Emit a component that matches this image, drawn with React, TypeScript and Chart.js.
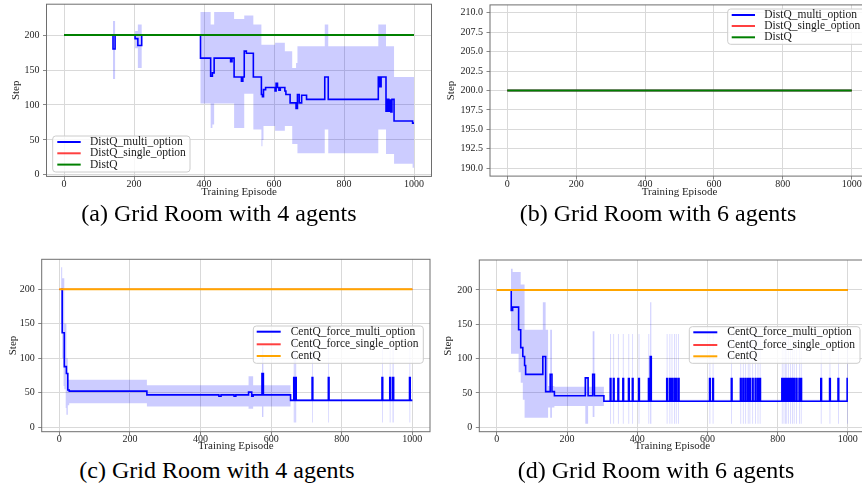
import React, { useEffect, useRef } from "react";
import { Chart, registerables } from "chart.js";

Chart.register(...registerables);

// ---------- tick labels ----------
const xTickValues = [0, 200, 400, 600, 800, 1000];
const yTickValuesStep = [0, 50, 100, 150, 200];
const yTickValuesB = [190, 192.5, 195, 197.5, 200, 202.5, 205, 207.5, 210];

// ---------- (a) DistQ, 4 agents ----------
const aEpisode = [0, 140, 146, 203, 211, 222, 390, 419, 424, 429, 476, 480, 486, 507, 511, 515, 521, 541, 564, 567, 570, 576, 603, 606, 610, 614, 618, 631, 634, 646, 652, 663, 667, 672, 679, 693, 745, 755, 898, 902, 906, 920, 924, 928, 931, 934, 937, 943, 996, 1000];
const aMulti = [200, 180, 200, 195, 185, 200, 167, 141, 146, 167, 162, 167, 140, 134, 140, 177, 174, 140, 115, 112, 122, 125, 120, 131, 125, 121, 125, 120, 115, 103, 103, 95, 115, 103, 114, 108, 140, 108, 140, 126, 140, 91, 108, 91, 107, 90, 108, 77, 74, 74];
const aLow = [200, 137, 200, 181, 153, 200, 102, 67, 72, 102, 102, 102, 67, 67, 67, 116, 116, 65, 41, 50, 70, 70, 63, 63, 63, 63, 63, 70, 70, 70, 44, 44, 31, 31, 31, 31, 65, 31, 65, 65, 65, 30, 30, 30, 30, 30, 30, 16, 10, 10];
const aHigh = [200, 220, 200, 206, 215, 200, 233, 215, 215, 233, 233, 233, 223, 223, 223, 228, 228, 215, 186, 186, 186, 186, 189, 189, 189, 189, 189, 177, 177, 177, 153, 160, 184, 184, 184, 184, 215, 184, 215, 215, 215, 184, 184, 184, 184, 184, 184, 140, 140, 140];
const aFlatEpisode = [0, 1000];
const aSingle = [200, 200];
const aDistQ = [200, 200];

// ---------- (b) DistQ, 6 agents ----------
const bEpisode = [0, 1000];
const bMulti = [200, 200];
const bLow = [200, 200];
const bHigh = [200, 200];
const bSingle = [200, 200];
const bDistQ = [200, 200];

// ---------- (c) CentQ, 4 agents ----------
const cEpisode = [5, 8, 12, 14, 18, 20, 24, 28, 248, 452, 458, 495, 500, 536, 545, 549, 574, 578, 655, 664, 667, 668, 671, 716, 718, 762, 764, 914, 916, 936, 938, 944, 947, 992, 994, 1000];
const cMulti = [200, 137, 137, 88, 88, 78, 54, 52.5, 47, 45, 47, 45, 47, 51, 45, 47, 78, 47, 39, 72, 39, 72, 39, 72, 39, 72, 39, 72, 39, 72, 39, 72, 39, 72, 39, 39];
const cLow = [150, 100, 60, 55, 28, 18, 32, 35, 30, 30, 30, 30, 30, 27, 27, 30, 15, 30, 38, 7, 38, 7, 38, 7, 38, 7, 38, 7, 38, 7, 38, 7, 38, 7, 38, 38];
const cHigh = [232, 216, 216, 150, 150, 100, 69, 69, 61, 61, 61, 61, 61, 74, 74, 61, 117, 61, 41, 130, 41, 130, 41, 130, 41, 130, 41, 130, 41, 130, 41, 130, 41, 130, 41, 41];
const cFlatEpisode = [0, 1000];
const cSingle = [200, 200];
const cCentQ = [200, 200];

// ---------- (d) CentQ, 6 agents ----------
const dEpisode = [40, 41, 45, 62, 68, 74, 79, 82, 131, 139, 146, 152, 157, 164, 252, 260, 273, 278, 305,
  323, 325, 332, 334, 345, 347, 359, 361, 375, 377, 386, 388, 404, 406, 432, 434, 437, 440,
  484, 486, 492, 494, 498, 500, 505, 507, 510, 512, 517, 519,
  606, 608, 615, 617, 668, 670,
  694, 696, 701, 703, 708, 710, 715, 717, 720, 722, 728, 730, 736, 738, 743, 745, 749, 751,
  812, 814, 817, 819, 821, 823, 825, 827, 830, 832, 836, 838, 841, 843, 846, 848, 853, 855, 861, 863, 866, 868,
  923, 925, 948, 950, 972, 974, 998, 1000];
const dMulti = [200, 170, 175, 142, 116, 103, 90, 77, 103, 52, 52, 77, 52, 46, 72, 46, 77, 46, 38,
  71, 38, 71, 38, 71, 38, 71, 38, 71, 38, 71, 38, 71, 38, 71, 38, 103, 38,
  71, 38, 71, 38, 71, 38, 71, 38, 71, 38, 71, 38,
  71, 38, 71, 38, 71, 38,
  71, 38, 71, 38, 71, 38, 71, 38, 71, 38, 71, 38, 71, 38, 71, 38, 71, 38,
  71, 38, 71, 38, 71, 38, 71, 38, 71, 38, 71, 38, 71, 38, 71, 38, 71, 38, 71, 38, 71, 38,
  71, 38, 71, 38, 71, 38, 71, 71];
const dLow = [107, 107, 107, 80, 65, 40, 14, 14, 14, 14, 29, 14, 29, 31, 5, 31, 15, 31, 37,
  5, 37, 5, 37, 5, 37, 5, 37, 5, 37, 5, 37, 5, 37, 5, 37, 5, 37,
  5, 37, 5, 37, 5, 37, 5, 37, 5, 37, 5, 37,
  5, 37, 5, 37, 5, 37,
  5, 37, 5, 37, 5, 37, 5, 37, 5, 37, 5, 37, 5, 37, 5, 37, 5, 37,
  5, 37, 5, 37, 5, 37, 5, 37, 5, 37, 5, 37, 5, 37, 5, 37, 5, 37, 5, 37, 5, 37,
  5, 37, 5, 37, 5, 37, 5, 5];
const dHigh = [231, 231, 226, 226, 208, 208, 142, 142, 182, 142, 60, 142, 60, 59, 72, 59, 140, 59, 40,
  136, 40, 136, 40, 136, 40, 136, 40, 136, 40, 136, 40, 136, 40, 136, 40, 182, 40,
  136, 40, 136, 40, 136, 40, 136, 40, 136, 40, 136, 40,
  136, 40, 136, 40, 136, 40,
  136, 40, 136, 40, 136, 40, 136, 40, 136, 40, 136, 40, 136, 40, 136, 40, 136, 40,
  136, 40, 136, 40, 136, 40, 136, 40, 136, 40, 136, 40, 136, 40, 136, 40, 136, 40, 136, 40, 136, 40,
  136, 40, 136, 40, 136, 40, 136, 136];
const dFlatEpisode = [0, 1000];
const dSingle = [200, 200];
const dCentQ = [200, 200];

const distLabels = ["DistQ_multi_option", "DistQ_single_option", "DistQ"];
const centLabels = ["CentQ_force_multi_option", "CentQ_force_single_option", "CentQ"];
const captions = ["(a) Grid Room with 4 agents", "(b) Grid Room with 6 agents", "(c) Grid Room with 4 agents", "(d) Grid Room with 6 agents"];

// ---------- layout / style ----------
const FONT = "'Liberation Serif', 'DejaVu Serif', serif";
const BAND = "rgba(0,0,255,0.2)";
const MULTI = "#0000ff";
const SINGLE = "#ff0000";

type Box = { left: number; top: number; w: number; h: number };
type Spec = {
  canvas: Box;
  plot: { L: number; T: number; R: number; B: number };
  yMin: number; yMax: number; yTicks: number[]; yDecimals: number;
  stepTitleX: number; xTitleY: number;
  episodes: number[]; multi: number[]; low: number[]; high: number[];
  flatEpisodes: number[]; single: number[]; base: number[];
  labels: string[]; baseColor: string;
  legend: { x: number; y: number; w: number; h: number; rows: number[]; lineX0: number; lineX1: number; textX: number };
};

const specs: Spec[] = [
  {
    canvas: { left: 0, top: 0, w: 432, h: 200 },
    plot: { L: 46.5, T: 4.2, R: 431.5, B: 176.4 },
    yMin: -2.2, yMax: 244.2, yTicks: yTickValuesStep, yDecimals: 0,
    stepTitleX: 16, xTitleY: 192.2,
    episodes: aEpisode, multi: aMulti, low: aLow, high: aHigh,
    flatEpisodes: aFlatEpisode, single: aSingle, base: aDistQ,
    labels: distLabels, baseColor: "#008000",
    legend: { x: 52.7, y: 136, w: 137.3, h: 36, rows: [142, 153.3, 164.6], lineX0: 57.3, lineX1: 80.7, textX: 90 },
  },
  {
    canvas: { left: 431, top: 0, w: 440, h: 200 },
    plot: { L: 490, T: 4.9, R: 869, B: 176.1 },
    yMin: 189, yMax: 211, yTicks: yTickValuesB, yDecimals: 1,
    stepTitleX: 451, xTitleY: 192.2,
    episodes: bEpisode, multi: bMulti, low: bLow, high: bHigh,
    flatEpisodes: bEpisode, single: bSingle, base: bDistQ,
    labels: distLabels, baseColor: "#008000",
    legend: { x: 727.7, y: 9, w: 145, h: 35.3, rows: [15, 26, 37.3], lineX0: 731.7, lineX1: 755, textX: 764.3 },
  },
  {
    canvas: { left: 0, top: 252, w: 432, h: 200 },
    plot: { L: 41.7, T: 259.3, R: 430, B: 431.7 },
    yMin: -6.4, yMax: 243.6, yTicks: yTickValuesStep, yDecimals: 0,
    stepTitleX: 13, xTitleY: 446.5,
    episodes: cEpisode, multi: cMulti, low: cLow, high: cHigh,
    flatEpisodes: cFlatEpisode, single: cSingle, base: cCentQ,
    labels: centLabels, baseColor: "#ffa500",
    legend: { x: 253.3, y: 326, w: 170, h: 37.3, rows: [331.7, 344.3, 356], lineX0: 256.7, lineX1: 280.7, textX: 290.7 },
  },
  {
    canvas: { left: 431, top: 252, w: 440, h: 200 },
    plot: { L: 479.3, T: 260, R: 865.4, B: 431.7 },
    yMin: -6.4, yMax: 243.6, yTicks: yTickValuesStep, yDecimals: 0,
    stepTitleX: 448, xTitleY: 446.5,
    episodes: dEpisode, multi: dMulti, low: dLow, high: dHigh,
    flatEpisodes: dFlatEpisode, single: dSingle, base: dCentQ,
    labels: centLabels, baseColor: "#ffa500",
    legend: { x: 689.3, y: 326.7, w: 170.7, h: 36.6, rows: [332.3, 345, 356.3], lineX0: 693.3, lineX1: 717.3, textX: 727.3 },
  },
];

const toXY = (xs: number[], ys: number[]) => xs.map((x, i) => ({ x, y: ys[i] }));

function buildConfig(spec: Spec): any {
  const { canvas, plot } = spec;
  const yAxisW = plot.L - canvas.left;
  const xAxisH = canvas.top + canvas.h - plot.B;
  const titleLH = 11 * 1.2;
  const yTitlePad = spec.stepTitleX - canvas.left - titleLH / 2;
  const xTitlePad = canvas.top + canvas.h - spec.xTitleY - titleLH / 2;
  const legendColors = [MULTI, "rgba(255,0,0,0.75)", spec.baseColor];

  const framePlugin = {
    id: "frame",
    afterDatasetsDraw(chart: any) {
      const { ctx, chartArea: a } = chart;
      ctx.save();
      ctx.strokeStyle = "#6e6e6e";
      ctx.lineWidth = 1;
      ctx.strokeRect(a.left, a.top, a.right - a.left, a.bottom - a.top);
      ctx.restore();
    },
  };
  const legendPlugin = {
    id: "boxLegend",
    afterDraw(chart: any) {
      const ctx = chart.ctx;
      const L = spec.legend;
      const ox = canvas.left, oy = canvas.top;
      ctx.save();
      ctx.beginPath();
      if (ctx.roundRect) ctx.roundRect(L.x - ox, L.y - oy, L.w, L.h, 3);
      else ctx.rect(L.x - ox, L.y - oy, L.w, L.h);
      ctx.fillStyle = "rgba(255,255,255,0.8)";
      ctx.fill();
      ctx.strokeStyle = "#cccccc";
      ctx.lineWidth = 1;
      ctx.stroke();
      spec.labels.forEach((label, i) => {
        const ry = L.rows[i] - oy;
        ctx.beginPath();
        ctx.moveTo(L.lineX0 - ox, ry);
        ctx.lineTo(L.lineX1 - ox, ry);
        ctx.strokeStyle = legendColors[i];
        ctx.lineWidth = 2;
        ctx.stroke();
        ctx.fillStyle = "#1a1a1a";
        ctx.font = `11.5px ${FONT}`;
        ctx.textBaseline = "middle";
        ctx.textAlign = "left";
        ctx.fillText(label, L.textX - ox, ry);
      });
      ctx.restore();
    },
  };

  const tickFont = { family: FONT, size: 10 };
  const titleFont = { family: FONT, size: 11 };

  return {
    type: "line",
    data: {
      datasets: [
        { label: "low", data: toXY(spec.episodes, spec.low), borderWidth: 0, borderColor: "rgba(0,0,0,0)", pointRadius: 0, stepped: true, fill: false, order: 5 },
        { label: "high", data: toXY(spec.episodes, spec.high), borderWidth: 0, borderColor: "rgba(0,0,0,0)", backgroundColor: BAND, pointRadius: 0, stepped: true, fill: "-1", order: 4 },
        { label: spec.labels[0], data: toXY(spec.episodes, spec.multi), borderColor: MULTI, borderWidth: 1.6, pointRadius: 0, stepped: true, fill: false, order: 2 },
        { label: spec.labels[1], data: toXY(spec.flatEpisodes, spec.single), borderColor: SINGLE, borderWidth: 1.4, pointRadius: 0, fill: false, order: 1 },
        { label: spec.labels[2], data: toXY(spec.flatEpisodes, spec.base), borderColor: spec.baseColor, borderWidth: 2, pointRadius: 0, fill: false, order: 0 },
      ],
    },
    options: {
      animation: false,
      responsive: true,
      maintainAspectRatio: false,
      events: [],
      layout: { padding: { left: 0, bottom: 0, top: plot.T - canvas.top, right: canvas.left + canvas.w - plot.R } },
      plugins: { legend: { display: false }, tooltip: { enabled: false } },
      scales: {
        x: {
          type: "linear", min: -50, max: 1050,
          afterBuildTicks: (s: any) => { s.ticks = xTickValues.map((v) => ({ value: v })); },
          afterFit: (s: any) => { s.height = xAxisH; s.paddingLeft = 0; s.paddingRight = 0; },
          ticks: { font: tickFont, color: "#262626", padding: -1.5, autoSkip: false, maxRotation: 0, callback: (v: any) => String(v) },
          grid: { color: "#d9d9d9", lineWidth: 1, drawTicks: true, tickLength: 3.5, tickColor: "#888" },
          border: { display: false },
          title: { display: true, text: "Training Episode", font: titleFont, color: "#262626", padding: { top: 0, bottom: xTitlePad } },
        },
        y: {
          type: "linear", min: spec.yMin, max: spec.yMax,
          afterBuildTicks: (s: any) => { s.ticks = spec.yTicks.map((v) => ({ value: v })); },
          afterFit: (s: any) => { s.width = yAxisW; s.paddingTop = 0; s.paddingBottom = 0; },
          ticks: { font: tickFont, color: "#262626", padding: 3.5, autoSkip: false, callback: (v: any) => Number(v).toFixed(spec.yDecimals) },
          grid: { color: "#d9d9d9", lineWidth: 1, drawTicks: true, tickLength: 3.5, tickColor: "#888" },
          border: { display: false },
          title: { display: true, text: "Step", font: titleFont, color: "#262626", padding: { top: yTitlePad, bottom: 0 } },
        },
      },
    },
    plugins: [framePlugin, legendPlugin],
  };
}

function ChartPanel({ spec }: { spec: Spec }) {
  const ref = useRef<HTMLCanvasElement>(null);
  useEffect(() => {
    if (!ref.current) return;
    const chart = new Chart(ref.current, buildConfig(spec));
    return () => chart.destroy();
  }, [spec]);
  return (
    <div style={{ position: "absolute", left: spec.canvas.left, top: spec.canvas.top, width: spec.canvas.w, height: spec.canvas.h }}>
      <canvas ref={ref} />
    </div>
  );
}

const captionPos = [
  { cx: 219, cy: 213 },
  { cx: 658, cy: 213 },
  { cx: 217, cy: 470 },
  { cx: 656, cy: 470 },
];

export default function App() {
  return (
    <div style={{ position: "fixed", left: 0, top: 0, width: 862, height: 491, overflow: "hidden", background: "#ffffff" }}>
      {specs.map((s, i) => <ChartPanel key={i} spec={s} />)}
      {captions.map((c, i) => (
        <div key={c + i} style={{ position: "absolute", left: captionPos[i].cx - 200, top: captionPos[i].cy - 14, width: 400, height: 28, lineHeight: "28px", textAlign: "center", fontFamily: FONT, fontSize: 24, color: "#000", whiteSpace: "nowrap" }}>
          {c}
        </div>
      ))}
    </div>
  );
}
